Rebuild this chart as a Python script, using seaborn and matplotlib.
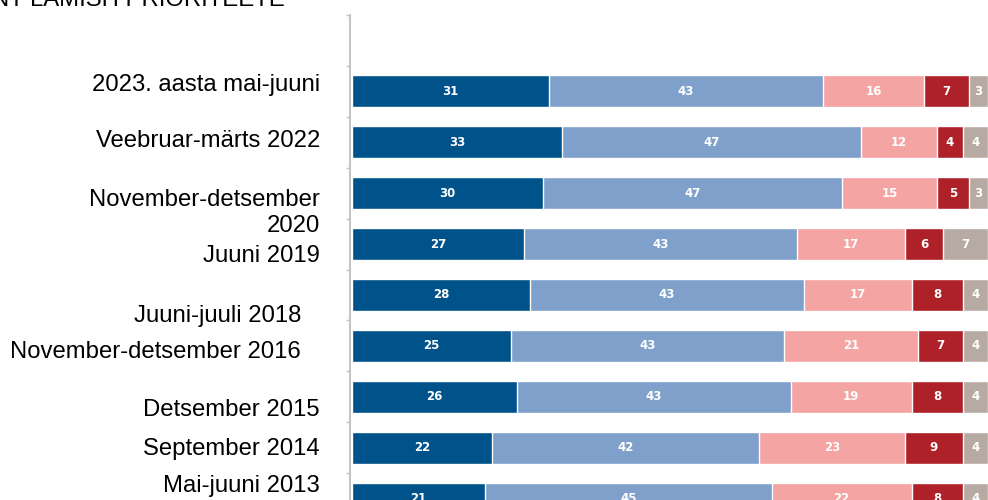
"""Stacked horizontal bars: survey results by period"""

import matplotlib
matplotlib.use("Agg")
import matplotlib.pyplot as plt
import seaborn as sns
import pandas as pd
import numpy as np

periods = [
    "2023. aasta mai-juuni",
    "Veebruar-märts 2022",
    "November-detsember\n2020",
    "Juuni 2019",
    "Juuni-juuli 2018",
    "November-detsember 2016",
    "Detsember 2015",
    "September 2014",
    "Mai-juuni 2013",
]
answers = ["a1", "a2", "a3", "a4", "a5"]
dark_blue = [31, 33, 30, 27, 28, 25, 26, 22, 21]
light_blue = [43, 47, 47, 43, 43, 43, 43, 42, 45]
pink = [16, 12, 15, 17, 17, 21, 19, 23, 22]
dark_red = [7, 4, 5, 6, 8, 7, 8, 9, 8]
grey = [3, 4, 3, 7, 4, 4, 4, 4, 4]
title = "NT LAMISH PRIORITEETE"

colors = ["#00528b", "#7fa0cb", "#f4a4a2", "#ae2129", "#b7aaa2"]

# label placement (figure pixels, from top) - labels are offset from bars in the source
label_y = [85, 141, 213, 256, 316, 352, 410, 449, 486]
label_x = [320, 320, 320, 320, 301, 301, 320, 320, 320]

df = pd.DataFrame(
    {"period": periods, "a1": dark_blue, "a2": light_blue, "a3": pink,
     "a4": dark_red, "a5": grey}
)
cum = df[answers].cumsum(axis=1)

sns.set_style("white")
plt.rcParams["font.family"] = ["Liberation Sans", "DejaVu Sans"]

W, H = 988, 500
fig = plt.figure(figsize=(W / 100, H / 100), dpi=100)
ax = fig.add_axes([350 / W, (H - 524) / H, 638 / W, 509 / H])

# stacked bars by drawing cumulative totals, longest first
for col, color in zip(answers[::-1], colors[::-1]):
    sns.barplot(x=cum[col], y=df["period"], color=color, orient="h",
                width=0.63, saturation=1, ax=ax)

# value labels in the middle of each segment
for i in range(len(df)):
    start = 0
    for col in answers:
        v = df.loc[i, col]
        ax.text(start + v / 2, i, str(v), ha="center", va="center",
                color="white", fontsize=8.5, fontweight="bold",
                family="DejaVu Sans")
        start += v

ax.set_xlim(-0.3, 100)
ax.set_ylim(len(df) - 0.5, -1.5)
ax.set_yticks(np.arange(-1.5, len(df), 1.0))
ax.set_yticklabels([])
ax.set_xticks([])
ax.set_xlabel("")
ax.set_ylabel("")
for s in ["top", "right", "bottom"]:
    ax.spines[s].set_visible(False)
ax.spines["left"].set_color("#c4c4c4")
ax.spines["left"].set_linewidth(1.5)
ax.tick_params(axis="y", left=True, length=3, width=1, color="#c4c4c4", pad=0)

for lab, ly, lx in zip(periods, label_y, label_x):
    fig.text(lx / W, (H - ly) / H, lab, ha="right", va="center",
             fontsize=17.2, color="#000000", linespacing=1.28)

fig.text(-8 / W, (H - 6) / H, title, ha="left", va="baseline",
         fontsize=17.2, color="#000000")

fig.savefig("out.png", dpi=100)
